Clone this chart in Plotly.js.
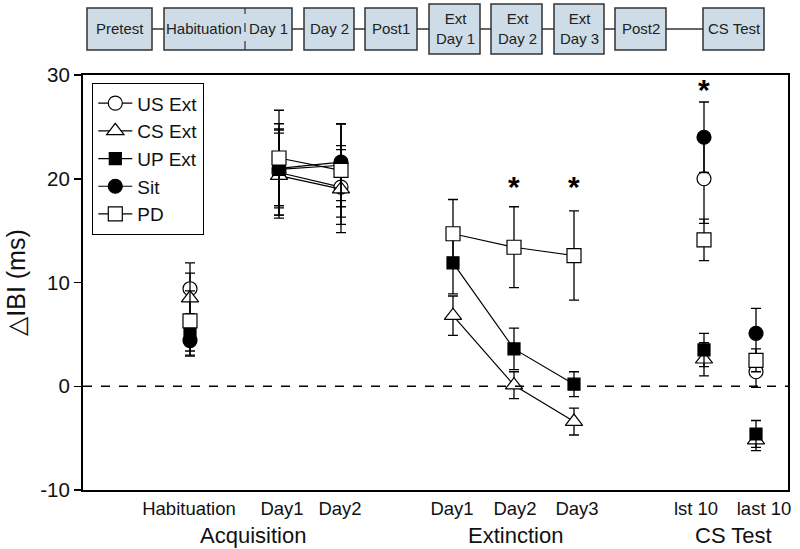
<!DOCTYPE html>
<html><head><meta charset="utf-8">
<script src="https://cdn.plot.ly/plotly-3.0.1.min.js"></script>
<style>html,body{margin:0;padding:0;background:#fff}#chart{width:800px;height:549px}</style>
</head><body><div id="chart"></div>
<script>
// ---------------- data ----------------
const categories = ["Habituation", "Day1", "Day2", "Day1", "Day2", "Day3", "lst 10", "last 10"];
const groupLabels = ["Acquisition", "Extinction", "CS Test"];
const seriesNames = ["US Ext", "CS Ext", "UP Ext", "Sit", "PD"];
const usExt    = [9.4, 20.6, 19.2, null, null, null, 20.0, 1.4];
const usExtErr = [2.5, 4.1, 3.6, null, null, null, 4.3, 1.5];
const csExt    = [8.5, 20.3, 19.0, 6.8, 0.1, -3.4, 2.6, -5.2];
const csExtErr = [2.4, 4.1, 4.2, 1.9, 1.3, 1.3, 1.6, 1.0];
const upExt    = [5.0, 20.9, 21.3, 11.9, 3.6, 0.2, 3.5, -4.6];
const upExtErr = [2.0, 4.4, 4.0, 3.0, 2.0, 1.2, 1.6, 1.3];
const sit      = [4.4, 21.0, 21.6, null, null, null, 24.0, 5.1];
const sitErr   = [1.5, 3.8, 3.7, null, null, null, 3.4, 2.4];
const pd       = [6.3, 22.0, 20.8, 14.7, 13.4, 12.6, 14.1, 2.5];
const pdErr    = [2.9, 4.6, 4.5, 3.3, 3.9, 4.3, 2.0, 1.1];
const yTickVals = [-10, 0, 10, 20, 30];
const yTickText = ["-10", "0", "10", "20", "30"];
const significantIdx = [4, 5, 6];
const stageLabels = ["Pretest", "Habituation", "Day 1", "Day 2", "Post1", "Ext<br>Day 1", "Ext<br>Day 2", "Ext<br>Day 3", "Post2", "CS Test"];

// ---------------- layout constants ----------------
const L = 83, R = 788, T = 75, B = 490;
const W = R - L, H = B - T;
const XPOS = [107, 196, 258, 370, 431, 491, 621, 673];
const TICKPOS = [106, 199, 257, 369, 432, 494, 613, 681];
const SEGMENTS = [[0], [1, 2], [3, 4, 5], [6], [7]];
const starLevels = [19.3, 19.3, 28.6];
const px2x = p => (p - L) / W;
const px2y = p => (B - p) / H;

const styles = [
  {symbol: "circle", fill: "#ffffff", size: 14},
  {symbol: "triangle-up", fill: "#ffffff", size: 15},
  {symbol: "square", fill: "#000000", size: 12},
  {symbol: "circle", fill: "#000000", size: 14},
  {symbol: "square", fill: "#ffffff", size: 14}
];
const values = [usExt, csExt, upExt, sit, pd];
const errors = [usExtErr, csExtErr, upExtErr, sitErr, pdErr];

const traces = seriesNames.map((name, s) => {
  const x = [], y = [], e = [];
  SEGMENTS.forEach(seg => {
    seg.forEach(i => { x.push(XPOS[i]); y.push(values[s][i]); e.push(errors[s][i]); });
    x.push(null); y.push(null); e.push(null);
  });
  return {
    type: "scatter", mode: "lines+markers", name: name,
    x: x, y: y, connectgaps: false, cliponaxis: false,
    line: {color: "#000", width: 1.2},
    marker: {symbol: styles[s].symbol, size: styles[s].size, color: styles[s].fill,
             line: {color: "#000", width: 1.2}},
    error_y: {type: "data", array: e, visible: true, color: "#000", thickness: 1.3, width: 5}
  };
});

const shapes = [
  {type: "line", xref: "paper", yref: "y", x0: 0, x1: 1, y0: 0, y1: 0,
   line: {color: "#000", width: 1.5, dash: "dash"}}
];
const annotations = [];

// timeline boxes
const boxFill = "#cddce6";
const boxes = [
  [87, 152, 8, 50], [164, 292, 8, 50], [304, 354, 8, 50], [365, 417, 8, 50],
  [429, 480, 4, 54], [491, 542, 4, 54], [554, 604, 4, 54], [615, 666, 8, 50], [703, 764, 8, 50]
];
shapes.push({type: "line", xref: "paper", yref: "paper", x0: px2x(152), x1: px2x(703),
  y0: px2y(29), y1: px2y(29), line: {color: "#333", width: 1.5}});
boxes.forEach(b => shapes.push({type: "rect", xref: "paper", yref: "paper",
  x0: px2x(b[0]), x1: px2x(b[1]), y0: px2y(b[3]), y1: px2y(b[2]),
  fillcolor: boxFill, line: {color: "#333", width: 1.5}}));
shapes.push({type: "line", xref: "paper", yref: "paper", x0: px2x(245), x1: px2x(245),
  y0: px2y(50), y1: px2y(8), line: {color: "#333", width: 1.2, dash: "dash"}});
const labelCenters = [120, 204, 268, 329, 391, 455, 517, 579, 641, 734];
stageLabels.forEach((t, i) => annotations.push({
  xref: "paper", yref: "paper", x: px2x(labelCenters[i]), y: px2y(29),
  xanchor: "center", yanchor: "middle", showarrow: false, text: t,
  font: {family: "Liberation Sans, Arial, sans-serif", size: 15, color: "#222"}
}));

// group labels
const groupCenters = [253, 515, 733];
groupLabels.forEach((t, i) => annotations.push({
  xref: "paper", yref: "paper", x: px2x(groupCenters[i]), y: px2y(535),
  xanchor: "center", yanchor: "middle", showarrow: false, text: t,
  font: {family: "Liberation Sans, Arial, sans-serif", size: 22, color: "#111"}
}));

// significance stars
significantIdx.forEach((i, k) => annotations.push({
  xref: "x", yref: "y", x: XPOS[i], y: starLevels[k], showarrow: false,
  text: "<b>*</b>", xanchor: "center", yanchor: "middle",
  font: {family: "Liberation Sans, Arial, sans-serif", size: 30, color: "#000"}
}));

const layout = {
  width: 800, height: 549,
  margin: {l: L, r: 800 - R, t: T, b: 549 - B, pad: 0},
  paper_bgcolor: "#fff", plot_bgcolor: "#fff",
  font: {family: "Liberation Sans, Arial, sans-serif", color: "#111"},
  showlegend: true,
  legend: {x: px2x(92), y: px2y(83), xanchor: "left", yanchor: "top",
    bgcolor: "#fff", bordercolor: "#000", borderwidth: 1.3, itemwidth: 34,
    font: {size: 19, color: "#111"}, tracegroupgap: 0},
  xaxis: {range: [0, W], showgrid: false, zeroline: false, showline: true, linecolor: "#000",
    linewidth: 2, mirror: true, ticks: "", tickmode: "array", tickvals: TICKPOS, ticktext: categories,
    tickfont: {size: 18.5, color: "#111"}, ticklabelstandoff: 1},
  yaxis: {range: [-10, 30], showgrid: false, zeroline: false, showline: true, linecolor: "#000",
    linewidth: 2, mirror: true, ticks: "outside", ticklen: 7, tickwidth: 1.5, tickcolor: "#000",
    tickmode: "array", tickvals: yTickVals, ticktext: yTickText, tickfont: {size: 20.5, color: "#111"},
    title: {text: "△IBI (ms)", font: {size: 25, color: "#111"}, standoff: 8}},
  shapes: shapes,
  annotations: annotations
};

Plotly.newPlot("chart", traces, layout, {displayModeBar: false, staticPlot: true});
</script>
</body></html>
